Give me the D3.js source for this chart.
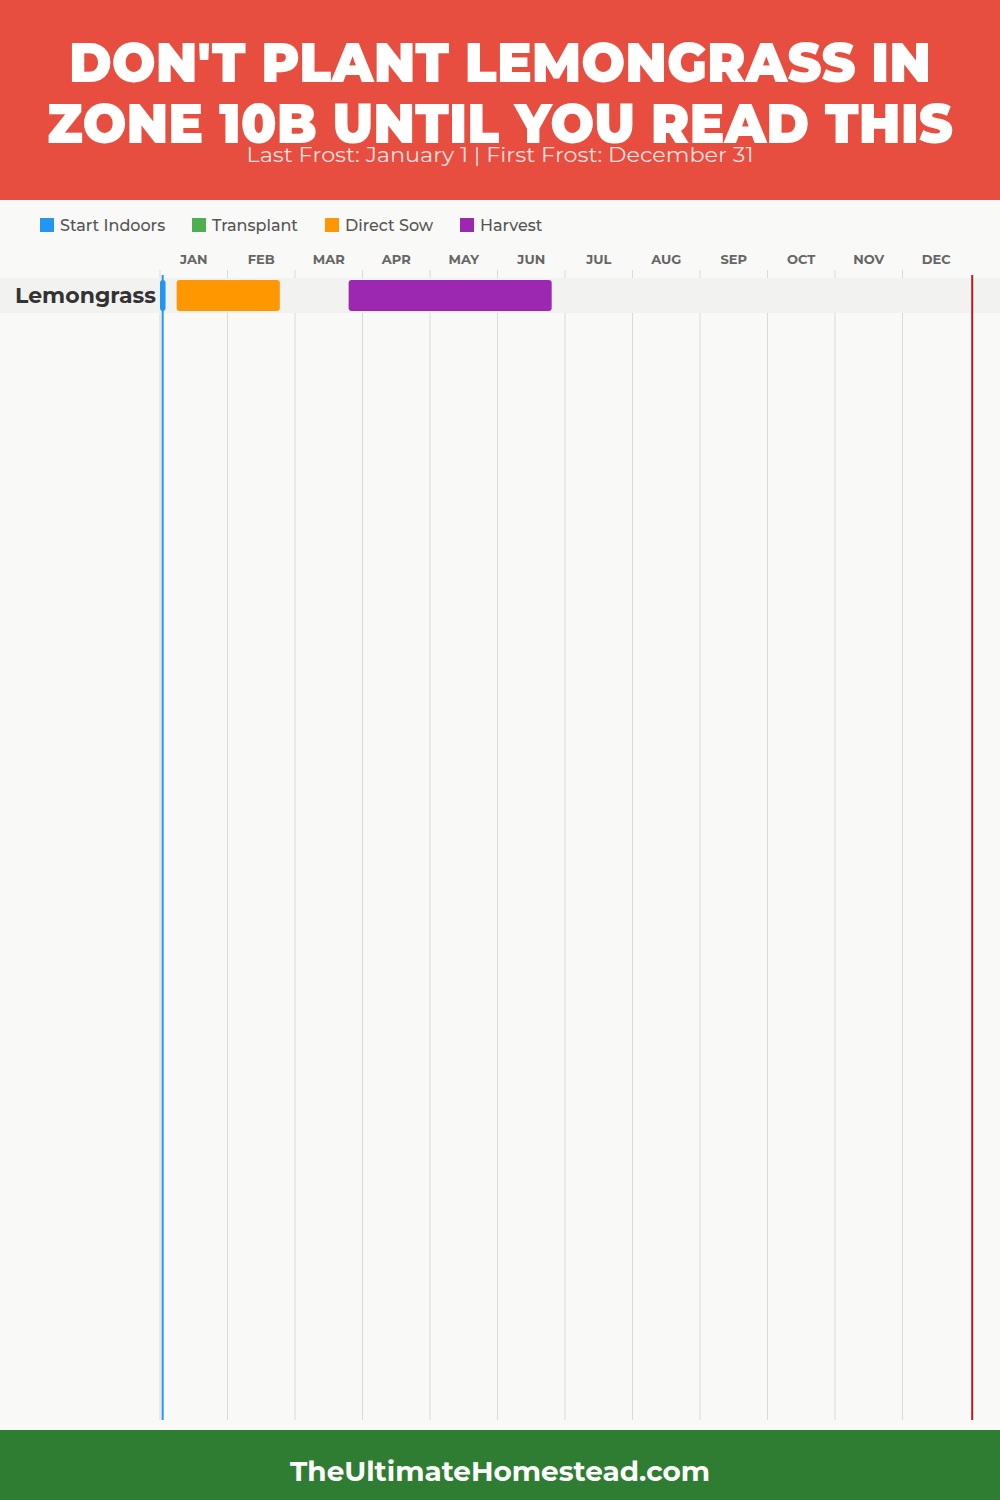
<!DOCTYPE html>
<html><head><meta charset="utf-8">
<script src="https://cdn.jsdelivr.net/npm/d3@7"></script>
<style>
html,body{margin:0;padding:0;background:#F9F9F7;}
svg{display:block;font-family:Montserrat,"DejaVu Sans","Open Sans",sans-serif;}
</style></head>
<body>
<script>
// ---- data ----
const titleLines = ["DON'T PLANT LEMONGRASS IN", "ZONE 10B UNTIL YOU READ THIS"];
const subtitle = "Last Frost: January 1 | First Frost: December 31";
const footerText = "TheUltimateHomestead.com";
const months = ["JAN","FEB","MAR","APR","MAY","JUN","JUL","AUG","SEP","OCT","NOV","DEC"];
const legendLabels = ["Start Indoors","Transplant","Direct Sow","Harvest"];
const legendColors = ["#2196F3","#4CAF50","#FF9800","#9C27B0"];
const crops = ["Lemongrass"];
// periods in day-of-year units [start, end]
const startIndoors = [[0, 2.5]];
const transplant = [null];
const directSow = [[7.5, 54]];
const harvest = [[85, 176.5]];
const lastFrostDay = 1.2;
const firstFrostDay = 366;

const W = 1000, H = 1500;
const svg = d3.select("body").append("svg").attr("width", W).attr("height", H);

svg.append("rect").attr("width", W).attr("height", H).attr("fill", "#F9F9F7");

// header
svg.append("rect").attr("x",0).attr("y",0).attr("width",W).attr("height",200).attr("fill","#E74E3F");
const titleW = [862, 906];
titleLines.forEach((t,i)=>{
  svg.append("text").attr("x",W/2).attr("y",[82,143][i]).attr("text-anchor","middle")
    .attr("fill","#fff").attr("font-size",55).attr("font-weight",900)
    .attr("textLength",titleW[i]).attr("lengthAdjust","spacingAndGlyphs")
    .text(t);
});
svg.append("text").attr("x",W/2).attr("y",162).attr("text-anchor","middle")
  .attr("fill","#fff").attr("fill-opacity",0.85).attr("font-size",20).attr("font-weight",400)
  .attr("textLength",507).attr("lengthAdjust","spacingAndGlyphs")
  .text(subtitle);

// legend
const legX = [40,192,325,460];
legendLabels.forEach((l,i)=>{
  const g = svg.append("g").attr("transform",`translate(${legX[i]},218)`);
  g.append("rect").attr("width",14).attr("height",14).attr("fill",legendColors[i]);
  g.append("text").attr("x",20).attr("y",13).attr("font-size",16).attr("font-weight",500).attr("fill","#555").text(l);
});

// scales
const x = d3.scaleLinear().domain([0,365]).range([160,970]);
const xm = d3.scaleBand().domain(months).range([160,970]);
const rowTop = 278, rowH = 35;
const y = d3.scaleBand().domain(crops).range([rowTop, rowTop + rowH*crops.length]);
const gridTop = 270, gridBottom = 1420;

// month gridlines
svg.append("g").selectAll("line").data(months).join("line")
  .attr("x1",d=>xm(d)).attr("x2",d=>xm(d)).attr("y1",gridTop).attr("y2",gridBottom)
  .attr("stroke","#DADADA").attr("stroke-width",1);

// month labels
svg.append("g").selectAll("text").data(months).join("text")
  .attr("x",d=>xm(d)+xm.bandwidth()/2).attr("y",264).attr("text-anchor","middle")
  .attr("font-size",13).attr("font-weight",700).attr("fill","#666").text(d=>d);

// rows
crops.forEach((c,i)=>{
  svg.append("rect").attr("x",0).attr("y",y(c)).attr("width",W).attr("height",y.bandwidth()).attr("fill","#F2F2F1");
  svg.append("text").attr("x",15).attr("y",y(c)+y.bandwidth()/2+7.5).attr("font-size",22).attr("font-weight",700)
    .attr("fill","#333").text(c);
  const series = [startIndoors, transplant, directSow, harvest];
  series.forEach((s,k)=>{
    const p = s[i]; if(!p) return;
    svg.append("rect").attr("x",x(p[0])).attr("y",y(c)+2).attr("width",x(p[1])-x(p[0])).attr("height",y.bandwidth()-4)
      .attr("rx",3).attr("fill",legendColors[k]);
  });
});

// frost lines
svg.append("line").attr("x1",x(lastFrostDay)).attr("x2",x(lastFrostDay)).attr("y1",275).attr("y2",gridBottom)
  .attr("stroke","#2196F3").attr("stroke-width",2);
svg.append("line").attr("x1",x(firstFrostDay)).attr("x2",x(firstFrostDay)).attr("y1",275).attr("y2",gridBottom)
  .attr("stroke","#B71C1C").attr("stroke-width",2);

// footer
svg.append("rect").attr("x",0).attr("y",1430).attr("width",W).attr("height",70).attr("fill","#2E7D32");
svg.append("text").attr("x",W/2).attr("y",1481).attr("text-anchor","middle").attr("fill","#fff")
  .attr("font-size",28).attr("font-weight",700).attr("textLength",420).attr("lengthAdjust","spacingAndGlyphs")
  .text(footerText);
</script>
</body></html>
